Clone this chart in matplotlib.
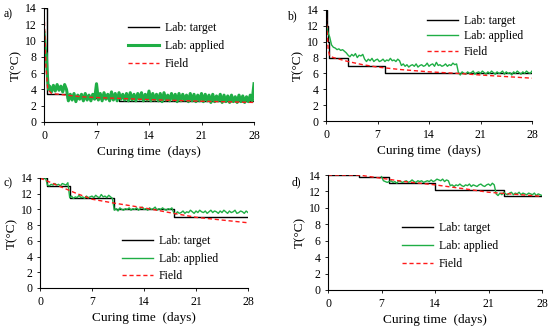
import numpy as np
import matplotlib
matplotlib.use('Agg')
import matplotlib.pyplot as plt

plt.rcParams['font.family'] = ['Liberation Serif', 'DejaVu Serif']

STEP = 0.25  # sampling step of the applied (measured) series, days

# ---- panel a ----
a_target_t = [0, 0.4, 3, 10, 28]
a_target_v = [14, 3.5, 3.0, 2.6, 2.6]
a_field_t = [0, 0.1, 0.25, 0.5, 1, 2, 3, 5, 7, 10, 14, 21, 28]
a_field_v = [14, 11, 7, 4, 3.5, 3.4, 3.3, 3.1, 3.0, 2.9, 2.75, 2.55, 2.4]
a_app_head_t = [0, 0.1, 0.2, 0.3, 0.4, 0.5, 0.6]
a_app_head_v = [11.0, 10.0, 8.6, 8.4, 6.6, 5.0, 4.0]
a_app_start = 0.75
a_app_v = [4.4, 3.7, 4.5, 3.8, 4.6, 3.9, 4.4, 3.7, 4.6, 4.0,
           2.6, 3.4, 2.7, 3.5, 2.5, 3.3, 2.8, 3.4, 2.6, 3.5, 2.7, 3.3, 2.6, 3.4, 2.8,
           4.7,
           2.7, 3.5, 2.6, 3.6, 2.8, 3.4, 2.6, 3.7, 2.7, 3.5, 2.6, 3.6, 2.8, 3.4, 2.7, 3.5,
           2.6, 3.6, 2.7, 3.4, 2.6, 3.5, 2.8, 3.6, 2.6, 3.4, 2.7, 3.8,
           2.6, 3.5, 2.7, 3.4, 2.6, 3.5, 2.5, 3.6, 2.7, 3.3, 2.6, 3.5, 2.7, 3.4, 2.5, 3.5,
           2.6, 3.4, 2.7, 3.3, 2.5, 3.5, 2.6, 3.4, 2.5, 3.3, 2.6, 3.5,
           2.5, 3.4, 2.6, 3.3, 2.4, 3.4, 2.5, 3.2, 2.6, 3.4, 2.4, 3.3, 2.5, 3.2, 2.4, 3.3,
           2.5, 3.1, 2.4, 3.3, 2.5, 3.2, 2.4, 3.1, 2.5, 3.3, 2.6,
           4.7]

# ---- panel b ----
b_target_t = [0, 0.15, 0.3, 0.45, 3, 8, 28]
b_target_v = [14, 12, 10, 8, 7, 6, 6]
b_field_t = [0, 0.1, 0.3, 0.5, 1, 3, 5, 7, 10, 14, 18, 21, 28]
b_field_v = [14, 12, 9, 8.2, 8.0, 7.5, 7.1, 6.8, 6.5, 6.2, 6.0, 5.8, 5.4]
b_app_start = 0.0
b_app_v = [12.4, 11.2, 10.6, 9.6, 9.3, 9.2, 9.0, 9.1, 8.9, 9.0, 8.8, 8.6,
           8.3, 8.1, 8.4, 8.2, 8.5, 8.0, 8.3, 8.2, 8.4,
           7.8, 7.5, 7.8, 7.6, 7.9, 7.5, 7.7, 7.8, 7.5, 7.6, 7.8, 7.5, 7.7, 7.6, 7.9,
           7.6, 7.7, 7.5, 7.8, 7.6,
           7.0, 7.2, 6.9, 7.1, 6.8, 7.0, 7.1, 6.9, 7.2, 6.8, 7.0, 7.1, 6.9, 7.0, 7.3,
           6.9, 7.1, 7.2, 6.9, 7.4, 7.0, 7.1, 6.9, 7.0, 7.2, 6.9, 7.1, 7.0, 7.3, 7.1, 7.2,
           6.1, 5.8, 6.2, 6.0, 5.9, 6.2, 6.0, 6.1, 6.3, 5.9, 6.1, 6.2, 6.0, 6.3, 6.1,
           5.9, 6.2, 6.0, 6.3, 6.1, 5.9, 6.2, 6.0, 6.1, 6.3, 5.9, 6.2, 6.0, 6.1, 5.8,
           6.2, 6.0, 6.3, 6.1, 5.9, 6.2, 6.0, 6.3, 6.1, 6.0, 6.3]

# ---- panel c ----
c_target_t = [0, 1, 4, 10, 18, 28]
c_target_v = [14, 13, 11.5, 10, 9, 9]
c_field_t = [0, 2, 5, 7, 10, 14, 18, 21, 28]
c_field_v = [14, 13.2, 12.0, 11.3, 10.8, 10.2, 9.5, 9.0, 8.3]
c_app_start = 0.0
c_app_v = [14.0, 14.0, 14.0, 14.0,
           13.1, 13.0, 13.2, 13.1, 13.3, 13.1, 13.2, 13.0, 13.3, 13.2, 13.1, 13.4,
           11.5, 11.7, 11.4, 11.6, 11.5, 11.8, 11.5, 11.6, 11.4, 11.7, 11.5, 11.6,
           11.7, 11.5, 11.8, 11.6, 11.5, 11.9, 11.6, 11.7, 11.5, 11.8, 11.6, 11.4,
           9.9, 10.1, 9.8, 10.2, 10.0, 9.9, 10.1, 10.0, 10.2, 9.9, 10.1, 10.0, 10.2, 9.9,
           10.1, 10.3, 10.0, 10.1, 9.9, 10.2, 10.0, 10.1, 10.3, 9.9, 10.1, 10.0, 10.2,
           10.0, 9.9, 10.1, 10.0, 10.2,
           9.6, 9.4, 9.7, 9.5, 9.6, 9.8, 9.5, 9.7, 9.6, 9.9, 9.7, 9.5, 9.8, 9.6, 9.9,
           9.7, 9.6, 9.8, 9.5, 9.7, 9.9, 9.6, 9.8, 9.7, 9.5, 9.8, 9.6, 9.9, 9.7, 9.5,
           9.8, 9.6, 9.7, 9.9, 9.5, 9.6, 9.8, 9.7, 9.5, 9.8, 9.6]

# ---- panel d ----
d_target_t = [0, 4, 8, 14, 23, 28]
d_target_v = [14, 13.8, 13.0, 12.2, 11.5, 11.5]
d_field_t = [0, 4, 7, 10, 14, 18, 21, 28]
d_field_v = [14, 14, 13.6, 13.2, 12.8, 12.3, 11.9, 11.4]
d_app_start = 7.0
d_app_v = [13.8, 13.3, 13.2, 13.1, 13.2, 13.3, 13.1, 13.2, 13.0, 13.3, 13.2, 13.1,
           13.2, 13.3, 13.1, 13.2, 13.4, 13.2, 13.1, 13.3, 13.2, 13.3, 13.1, 13.2,
           13.3, 13.2, 13.4, 13.2, 13.3, 13.5, 13.4, 13.3, 13.5, 13.2, 13.4, 13.3,
           12.7, 12.8, 12.6, 12.8, 12.7, 12.9, 12.7, 12.6, 12.8, 12.7, 12.9, 12.6,
           12.8, 12.7, 12.6, 12.8, 12.9, 12.7, 12.6, 12.8, 12.9, 12.7, 13.0, 12.8,
           11.7, 11.5, 11.8, 11.6, 11.9, 11.7, 11.6, 11.8, 11.9, 11.6, 11.8, 11.7, 11.9,
           11.6, 11.8, 11.7, 11.6, 11.8, 11.7, 11.6, 11.8, 11.5, 11.7, 11.6, 11.5]

GREEN = '#1fae45'
RED = '#ff1a1a'

W, H = 550, 332
fig = plt.figure(figsize=(W / 100, H / 100), dpi=100)


def add_axes(px):
    # px = (left, top, right, bottom) in pixels
    l, t, r, b = px
    return fig.add_axes([l / W, 1 - b / H, (r - l) / W, (b - t) / H])


panels = [
    ('a)', (44, 8, 254, 122), a_target_t, a_target_v, a_field_t, a_field_v,
     a_app_head_t + list(a_app_start + STEP * np.arange(len(a_app_v))),
     a_app_head_v + a_app_v, 2.2, (0.39, 0.895), 0.5, (4, 14)),
    ('b)', (326, 10, 532, 121), b_target_t, b_target_v, b_field_t, b_field_v,
     list(b_app_start + STEP * np.arange(len(b_app_v))), b_app_v, 1.0,
     (0.48, 0.975), 0.28, (287, 16)),
    ('c)', (40, 178, 248, 288), c_target_t, c_target_v, c_field_t, c_field_v,
     list(c_app_start + STEP * np.arange(len(c_app_v))), c_app_v, 1.0,
     (0.385, 0.50), 0.45, (4, 183)),
    ('d)', (328, 175, 542, 290), d_target_t, d_target_v, d_field_t, d_field_v,
     list(d_app_start + STEP * np.arange(len(d_app_v))), d_app_v, 1.0,
     (0.335, 0.61), 0.5, (292, 182)),
]

for (letter, px, tt, tv, ft, fv, at, av, alw, lpos, lspace, lxy) in panels:
    ax = add_axes(px)
    ax.plot(tt, tv, color='black', lw=1.0, drawstyle='steps-post', label='Lab: target')
    ax.plot(at, av, color=GREEN, lw=alw, label='Lab: applied')
    ax.plot(ft, fv, color=RED, lw=1.0, ls=(0, (3, 2)), label='Field')
    ax.set_xlim(0, 28)
    ax.set_ylim(0, 14)
    ax.set_xticks([0, 7, 14, 21, 28])
    ax.set_yticks(range(0, 15, 2))
    ax.spines['top'].set_visible(False)
    ax.spines['right'].set_visible(False)
    ax.tick_params(labelsize=8.5, length=2.5, width=0.6, pad=3)
    for s in ('left', 'bottom'):
        ax.spines[s].set_linewidth(0.8)
    ax.set_xlabel('Curing time  (days)', fontsize=9.5, labelpad=3)
    ax.set_ylabel('T(°C)', fontsize=9.5, labelpad=2)
    ax.legend(loc='upper left', bbox_to_anchor=lpos, frameon=False, fontsize=8.5,
              handlelength=2.6, labelspacing=lspace, borderaxespad=0, borderpad=0.2,
              handletextpad=0.5)
    fig.text(lxy[0] / W, 1 - lxy[1] / H, letter, fontsize=8.5, va='center', ha='left')

fig.savefig('out.png', dpi=100)
